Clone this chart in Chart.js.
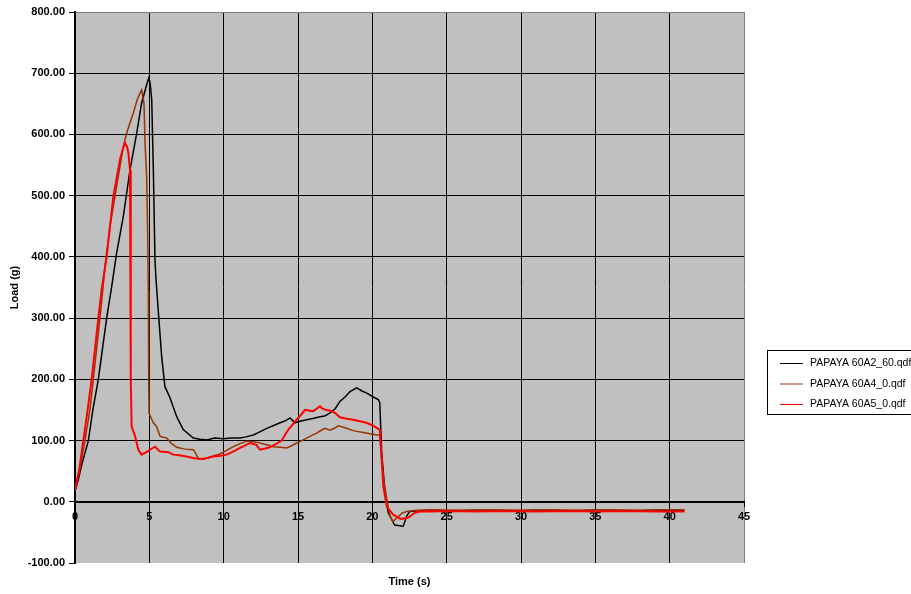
<!DOCTYPE html>
<html>
<head>
<meta charset="utf-8">
<script src="https://cdn.jsdelivr.net/npm/chart.js@4"></script>
<style>
  html, body { margin: 0; padding: 0; background: #fff; }
  #wrap { position: relative; width: 911px; height: 594px; }
</style>
</head>
<body>
<div id="wrap"><canvas id="loadChart"></canvas></div>
<script>
// time (s) and load (g), one pair of arrays per test
var timeA2 = [0, 0.22, 0.5, 0.9, 1.2, 1.57, 1.85, 2.13, 2.47, 2.8, 3.25, 3.7, 4.15, 4.48, 4.75, 4.96, 5.05, 5.16, 5.27, 5.38, 5.45, 5.61, 5.83, 6.05, 6.39, 6.84, 7.28, 7.96, 8.4, 8.86, 9.4, 9.98, 10.5, 11.1, 11.5, 12.0, 12.5, 12.9, 13.4, 13.8, 14.2, 14.46, 14.8, 15.2, 15.58, 16.0, 16.48, 16.8, 17.15, 17.5, 17.82, 18.2, 18.5, 18.95, 19.3, 19.6, 20.0, 20.4, 20.5, 20.63, 20.85, 21.07, 21.5, 22.08, 22.3, 22.5, 23, 24, 25, 27, 29, 31, 33, 35, 37, 39, 41];
var loadA2 = [17, 36, 65, 100, 150, 200, 250, 300, 352, 406, 466, 542, 602, 651, 675, 692, 685, 657, 542, 395, 363, 309, 237, 188, 170, 139, 118, 104, 102, 101, 104, 103, 104, 104, 106, 109, 115, 120, 125, 129, 133, 137, 129, 132, 134, 136, 139, 140, 145, 152, 164, 172, 180, 186, 181, 178, 172, 167, 162, 80, 15, -18, -38, -40, -24, -16, -15, -14, -15, -14, -15, -14, -15, -14, -15, -14, -14];

var timeA4 = [0, 0.3, 0.67, 1.0, 1.23, 1.68, 2.02, 2.35, 2.8, 3.25, 3.47, 3.92, 4.2, 4.48, 4.64, 4.71, 4.82, 4.9, 4.93, 4.96, 4.98, 5.1, 5.27, 5.49, 5.72, 6.17, 6.5, 6.84, 7.4, 7.96, 8.1, 8.3, 8.86, 9.3, 9.75, 10.2, 10.65, 11.1, 11.55, 12.0, 12.44, 12.9, 13.34, 13.8, 14.24, 14.6, 14.91, 15.25, 15.58, 15.9, 16.26, 16.5, 16.82, 17.15, 17.45, 17.71, 18.0, 18.27, 18.6, 18.95, 19.4, 19.84, 20.1, 20.4, 20.5, 20.63, 20.8, 21.0, 21.2, 21.4, 21.63, 21.97, 22.3, 23, 24, 26, 28, 30, 32, 34, 36, 38, 40, 41];
var loadA4 = [18, 50, 100, 150, 200, 300, 384, 450, 515, 580, 602, 635, 658, 673, 651, 586, 531, 420, 346, 200, 145, 138, 129, 123, 107, 104, 95, 89, 86, 85, 80, 70, 71, 75, 78, 84, 90, 95, 99, 98, 96, 93, 90, 89, 88, 92, 96, 100, 104, 108, 112, 116, 120, 117, 120, 124, 122, 120, 117, 115, 113, 111, 110, 109, 109, 69, 30, 0, -24, -32, -27, -19, -16, -14, -13, -14, -13, -14, -13, -14, -13, -14, -13, -13];

var timeA5 = [0, 0.3, 0.56, 0.85, 1.12, 1.57, 1.79, 2.13, 2.58, 3.03, 3.2, 3.36, 3.5, 3.59, 3.7, 3.74, 3.76, 3.81, 4.04, 4.26, 4.48, 4.8, 5.04, 5.38, 5.72, 6.28, 6.61, 7.0, 7.51, 8.0, 8.63, 9.3, 9.8, 10.2, 10.8, 11.1, 11.77, 12.2, 12.44, 12.8, 13.1, 13.5, 13.9, 14.35, 14.91, 15.2, 15.47, 16.03, 16.48, 16.6, 16.9, 17.15, 17.5, 17.82, 18.2, 18.7, 19.1, 19.6, 20.0, 20.4, 20.5, 20.63, 20.74, 20.97, 21.4, 21.9, 22.4, 22.87, 23.2, 24, 25, 27, 29, 31, 33, 35, 37, 39, 41];
var loadA5 = [20, 55, 100, 150, 200, 300, 346, 401, 499, 559, 575, 586, 580, 570, 542, 346, 200, 123, 107, 85, 77, 81, 85, 90, 82, 81, 77, 76, 74, 71, 70, 74, 75, 77, 84, 88, 96, 93, 85, 87, 89, 94, 100, 118, 134, 142, 150, 148, 156, 153, 150, 149, 145, 138, 136, 134, 132, 129, 125, 119, 118, 69, 25, -8, -21, -28, -26, -18, -16, -16, -15, -16, -15, -16, -15, -16, -15, -16, -16];

var seriesNames = ['PAPAYA 60A2_60.qdf', 'PAPAYA 60A4_0.qdf', 'PAPAYA 60A5_0.qdf'];
var seriesColors = ['#000000', '#993300', '#ff0000'];

var FONT = '"Liberation Sans", Arial, sans-serif';

function toPoints(times, loads) {
  return times.map(function(t, i) { return { x: t, y: loads[i] }; });
}

// grey plot area like the Excel original
var plotBackground = {
  id: 'plotBackground',
  beforeDraw: function(chart) {
    var a = chart.chartArea;
    var ctx = chart.ctx;
    ctx.save();
    ctx.fillStyle = '#c0c0c0';
    ctx.fillRect(a.left, a.top, a.right - a.left, a.bottom - a.top);
    ctx.restore();
  }
};

// boxed legend at the right, partly cut by the edge
var boxLegend = {
  id: 'boxLegend',
  afterDraw: function(chart) {
    var ctx = chart.ctx;
    ctx.save();
    ctx.strokeStyle = '#000';
    ctx.lineWidth = 1;
    ctx.strokeRect(767.5, 350.5, 170, 64);
    ctx.font = '10.5px ' + FONT;
    ctx.textBaseline = 'middle';
    chart.data.datasets.forEach(function(ds, i) {
      var y = 363.5 + i * 20.5;
      ctx.strokeStyle = ds.borderColor;
      ctx.lineWidth = 1;
      ctx.beginPath();
      ctx.moveTo(780, y);
      ctx.lineTo(803, y);
      ctx.stroke();
      ctx.fillStyle = '#000';
      ctx.fillText(ds.label, 810, y);
    });
    ctx.restore();
  }
};

function buildLoadChart() {
  var ctx = document.getElementById('loadChart');

  new Chart(ctx, {
    type: 'line',
    data: {
      datasets: [
        { label: seriesNames[0], data: toPoints(timeA2, loadA2), borderColor: seriesColors[0], borderWidth: 1.5, order: 3 },
        { label: seriesNames[1], data: toPoints(timeA4, loadA4), borderColor: seriesColors[1], borderWidth: 1.5, order: 2 },
        { label: seriesNames[2], data: toPoints(timeA5, loadA5), borderColor: seriesColors[2], borderWidth: 2, order: 1 }
      ]
    },
    options: {
      responsive: true,
      maintainAspectRatio: false,
      animation: false,
      elements: { point: { radius: 0 }, line: { tension: 0, fill: false } },
      layout: { padding: { left: 0, top: 12, right: 167, bottom: 0 } },
      plugins: {
        legend: { display: false },
        tooltip: { enabled: false }
      },
      scales: {
        x: {
          type: 'linear',
          position: { y: 0 },
          min: 0,
          max: 45,
          ticks: { stepSize: 5, color: '#000', padding: 5, font: { family: FONT, size: 11, weight: 'bold' } },
          grid: {
            color: function(c) {
              var v = c.tick ? c.tick.value : null;
              if (v === 0) return 'rgba(0,0,0,0)';
              if (v === 45) return '#808080';
              return '#000';
            },
            tickColor: '#000',
            tickLength: 4
          },
          border: { color: '#000', width: 2 }
        },
        xTitle: {
          type: 'linear',
          axis: 'x',
          position: 'bottom',
          min: 0,
          max: 45,
          ticks: { display: false },
          grid: { display: false },
          border: { display: false },
          title: { display: true, text: 'Time (s)', color: '#000', padding: { top: 0, bottom: 5 }, font: { family: FONT, size: 11, weight: 'bold' } },
          afterFit: function(scale) { scale.height = 31; }
        },
        y: {
          type: 'linear',
          position: 'left',
          min: -100,
          max: 800,
          ticks: {
            stepSize: 100,
            color: '#000',
            padding: 4,
            font: { family: FONT, size: 11, weight: 'bold' },
            callback: function(v) { return v.toFixed(2); }
          },
          grid: {
            color: function(c) {
              var v = c.tick ? c.tick.value : null;
              if (v === 800) return '#808080';
              if (v === -100 || v === 0) return 'rgba(0,0,0,0)';
              return '#000';
            },
            tickColor: '#000',
            tickLength: 6
          },
          border: { color: '#000', width: 2 },
          title: { display: true, text: 'Load (g)', color: '#000', padding: { top: 8, bottom: 0 }, font: { family: FONT, size: 11, weight: 'bold' } },
          afterFit: function(scale) { scale.width = 75; }
        }
      }
    },
    plugins: [plotBackground, boxLegend]
  });
}

document.addEventListener('DOMContentLoaded', function() {
  buildLoadChart();
});
</script>
</body>
</html>
